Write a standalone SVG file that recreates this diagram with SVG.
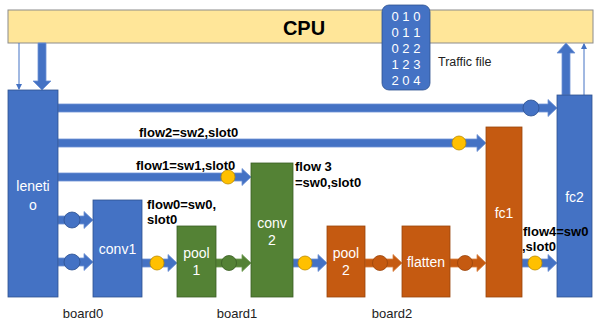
<svg xmlns="http://www.w3.org/2000/svg" width="598" height="327" viewBox="0 0 598 327">
<style>
text{font-family:"Liberation Sans",Arial,sans-serif}
.nl{fill:#fff;font-size:14px;text-anchor:middle}
.fl{fill:#000;font-size:13px;font-weight:bold}
.bl{fill:#222;font-size:13px;text-anchor:middle}
.blue{fill:#4472C4;stroke:#2F528F;stroke-width:0.8}
.green{fill:#548235;stroke:#3B5E25;stroke-width:0.8}
.orange{fill:#C55A11;stroke:#9A450C;stroke-width:0.8}
.yel{fill:#FFC000;stroke:#BC8C00;stroke-width:0.8}
.ab{fill:#4472C4;stroke:#6F93D6;stroke-width:0.8}
.ag{fill:#548235;stroke:#6F9C52;stroke-width:0.8}
.ao{fill:#C55A11;stroke:#D9803F;stroke-width:0.8}
</style>
<defs>
<marker id="tip" markerWidth="6" markerHeight="6" refX="5" refY="3" orient="auto" markerUnits="userSpaceOnUse"><path d="M0,0 L6,3 L0,6 z" fill="#4472C4"/></marker>
</defs>
<rect width="598" height="327" fill="#fff"/>
<g id="cpu">
<rect x="8" y="10" width="585" height="33" fill="#FFE699" stroke="#8C8C8C" stroke-width="1"/>
<text x="304" y="35" font-size="20" font-weight="bold" text-anchor="middle">CPU</text>
</g>
<g id="traffic">
<rect x="382" y="5" width="48" height="85" rx="7" class="blue"/>
<g fill="#fff" font-size="13" text-anchor="middle">
<text x="406" y="21">0 1 0</text>
<text x="406" y="37">0 1 1</text>
<text x="406" y="53">0 2 2</text>
<text x="406" y="69">1 2 3</text>
<text x="406" y="85">2 0 4</text>
</g>
<text x="438" y="66" font-size="12.5" fill="#222">Traffic file</text>
</g>
<g id="connectors">
<!-- CPU to leneti -->
<line x1="19" y1="43" x2="19" y2="89" stroke="#4472C4" stroke-width="1" marker-end="url(#tip)"/>
<polygon class="ab" points="38,43 46,43 46,81 51,81 42,90 33,81 38,81"/>
<!-- fc2 to CPU -->
<line x1="584" y1="95" x2="584" y2="44" stroke="#4472C4" stroke-width="1" marker-end="url(#tip)"/>
<polygon class="ab" points="562,95 570,95 570,53 575,53 566,43 557,53 562,53"/>
<!-- top arrow -->
<polygon class="ab" points="58,104 548,104 548,99.5 557,108 548,116.5 548,112 58,112"/>
<circle cx="531" cy="108" r="8" class="blue"/>
<!-- flow2 -->
<polygon class="ab" points="58,139 477,139 477,134.5 486,143 477,151.5 477,147 58,147"/>
<circle cx="459" cy="143" r="7" class="yel"/>
<!-- flow1 -->
<polygon class="ab" points="58,173 242,173 242,168.5 251,177 242,185.5 242,181 58,181"/>
<circle cx="228" cy="177" r="7" class="yel"/>
<!-- leneti to conv1 -->
<polygon class="ab" points="58,216 84,216 84,211.5 93,220 84,228.5 84,224 58,224"/>
<circle cx="72" cy="220" r="8" class="blue"/>
<polygon class="ab" points="58,258 84,258 84,253.5 93,262 84,270.5 84,266 58,266"/>
<circle cx="72" cy="262" r="8" class="blue"/>
<!-- conv1 to pool1 -->
<polygon class="ab" points="142,259 168,259 168,254.5 177,263 168,271.5 168,267 142,267"/>
<circle cx="157" cy="263" r="7" class="yel"/>
<!-- pool1 to conv2 -->
<polygon class="ag" points="216,259 242,259 242,254.5 251,263 242,271.5 242,267 216,267"/>
<circle cx="229" cy="263" r="7.5" class="green"/>
<!-- conv2 to pool2 -->
<polygon class="ab" points="293,259 318,259 318,254.5 327,263 318,271.5 318,267 293,267"/>
<circle cx="305" cy="263" r="7" class="yel"/>
<!-- pool2 to flatten -->
<polygon class="ao" points="365,259 393,259 393,254.5 402,263 393,271.5 393,267 365,267"/>
<circle cx="380" cy="263" r="7.5" class="orange"/>
<!-- flatten to fc1 -->
<polygon class="ao" points="450,259 477,259 477,254.5 486,263 477,271.5 477,267 450,267"/>
<circle cx="465" cy="263" r="7.5" class="orange"/>
<!-- fc1 to fc2 -->
<polygon class="ab" points="522,259 548,259 548,254.5 557,263 548,271.5 548,267 522,267"/>
<circle cx="535" cy="263" r="7" class="yel"/>
</g>
<g id="leneti">
<rect x="8" y="90" width="50" height="207" class="blue"/>
<text x="33" y="191" class="nl">leneti</text>
<text x="33" y="210" class="nl">o</text>
</g>
<g id="conv1">
<rect x="93" y="200" width="49" height="97" class="blue"/>
<text x="117.5" y="254" class="nl">conv1</text>
</g>
<g id="pool1">
<rect x="177" y="226" width="39" height="71" class="green"/>
<text x="196.5" y="258" class="nl">pool</text>
<text x="196.5" y="275" class="nl">1</text>
</g>
<g id="conv2">
<rect x="251" y="163" width="42" height="134" class="green"/>
<text x="272" y="228" class="nl">conv</text>
<text x="272" y="245" class="nl">2</text>
</g>
<g id="pool2">
<rect x="327" y="226" width="38" height="71" class="orange"/>
<text x="346" y="258" class="nl">pool</text>
<text x="346" y="275" class="nl">2</text>
</g>
<g id="flatten">
<rect x="402" y="226" width="48" height="71" class="orange"/>
<text x="426" y="267" class="nl">flatten</text>
</g>
<g id="fc1">
<rect x="486" y="127" width="36" height="170" class="orange"/>
<text x="504" y="218" class="nl">fc1</text>
</g>
<g id="fc2">
<rect x="557" y="95" width="35" height="202" class="blue"/>
<text x="574.5" y="202" class="nl">fc2</text>
</g>
<g id="labels">
<text x="139" y="137" class="fl">flow2=sw2,slot0</text>
<text x="136" y="170" class="fl">flow1=sw1,slot0</text>
<text x="295" y="171" class="fl">flow 3</text>
<text x="295" y="187" class="fl">=sw0,slot0</text>
<text x="147" y="209" class="fl">flow0=sw0,</text>
<text x="147" y="224" class="fl">slot0</text>
<text x="523" y="236" class="fl">flow4=sw0</text>
<text x="522" y="251" class="fl">,slot0</text>
<text x="83" y="318" class="bl">board0</text>
<text x="237" y="318" class="bl">board1</text>
<text x="392" y="318" class="bl">board2</text>
</g>
</svg>
